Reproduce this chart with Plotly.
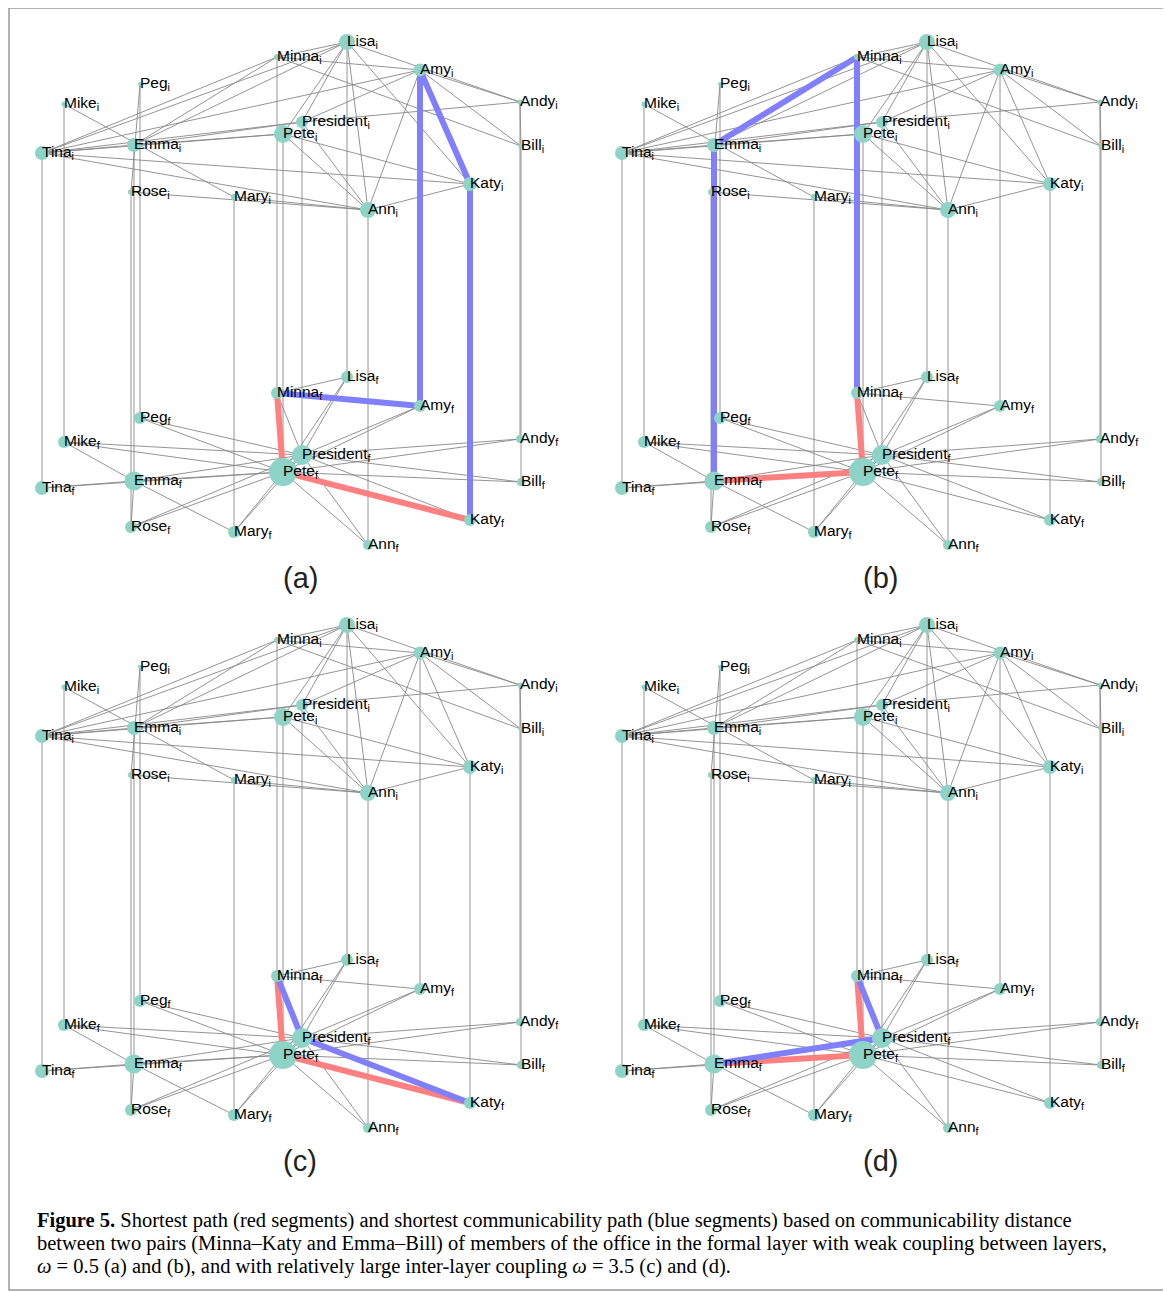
import plotly.graph_objects as go

W, H = 1171, 1292          # page size
OFF = 8                    # browser body margin
FW, FH = W - OFF, H - OFF  # figure size so the page is filled exactly

# ---------------- data ----------------
names = ["Tina", "Mike", "Peg", "Emma", "Rose", "Mary", "Minna", "Pete",
         "President", "Lisa", "Ann", "Amy", "Andy", "Bill", "Katy"]

# node layout inside one panel (pixels)
pos_x = [42, 64, 140, 134, 131, 234, 277, 283, 302, 347, 368, 420, 520, 521, 470]
pos_y_informal = [153, 104, 84, 145, 192, 197, 57, 134, 122, 42, 210, 70, 102, 146, 184]
pos_y_formal = [488, 442, 418, 481, 527, 532, 393, 472, 455, 377, 545, 406, 439, 482, 520]

# node sizes (diameter, px)
size_informal = [14, 5, 4, 14, 6, 6, 6, 18, 12, 16, 16, 13, 5, 5, 14]
size_formal = [14, 12, 12, 19, 12, 12, 12, 28, 20, 12, 10, 12, 8, 8, 12]

edges_informal = [
    ("Tina", "Minna"), ("Tina", "Lisa"), ("Tina", "Amy"), ("Tina", "Emma"),
    ("Tina", "Pete"), ("Tina", "President"), ("Tina", "Katy"), ("Tina", "Ann"),
    ("Mike", "Mary"), ("Peg", "Rose"),
    ("Emma", "Minna"), ("Emma", "Lisa"), ("Emma", "Pete"), ("Emma", "President"),
    ("Rose", "Ann"), ("Mary", "Ann"),
    ("Minna", "Lisa"), ("Minna", "Amy"), ("Minna", "Bill"),
    ("Lisa", "Pete"), ("Lisa", "President"), ("Lisa", "Ann"), ("Lisa", "Katy"),
    ("Lisa", "Andy"),
    ("Amy", "President"), ("Amy", "Ann"), ("Amy", "Andy"), ("Amy", "Bill"),
    ("Amy", "Katy"),
    ("Pete", "Ann"), ("Pete", "Katy"), ("President", "Ann"), ("President", "Andy"),
    ("Andy", "Bill"), ("Ann", "Katy"),
]

edges_formal = [
    ("Pete", "Peg"), ("Pete", "Mike"), ("Pete", "Emma"), ("Pete", "Tina"),
    ("Pete", "Rose"), ("Pete", "Mary"), ("Pete", "Ann"), ("Pete", "Katy"),
    ("Pete", "Bill"), ("Pete", "Andy"), ("Pete", "Amy"), ("Pete", "Lisa"),
    ("Pete", "Minna"), ("Pete", "President"),
    ("President", "Peg"), ("President", "Mike"), ("President", "Emma"),
    ("President", "Rose"), ("President", "Mary"), ("President", "Ann"),
    ("President", "Bill"), ("President", "Andy"), ("President", "Amy"),
    ("President", "Lisa"), ("President", "Minna"), ("President", "Katy"),
    ("Emma", "Mike"), ("Emma", "Tina"), ("Emma", "Mary"), ("Emma", "Rose"),
    ("Minna", "Lisa"), ("Minna", "Amy"),
]

panel_tags = ["(a)", "(b)", "(c)", "(d)"]
red_paths = [
    [("Minna", "f"), ("Pete", "f"), ("Katy", "f")],
    [("Emma", "f"), ("Pete", "f"), ("Minna", "f")],
    [("Minna", "f"), ("Pete", "f"), ("Katy", "f")],
    [("Emma", "f"), ("Pete", "f"), ("Minna", "f")],
]
blue_paths = [
    [("Minna", "f"), ("Amy", "f"), ("Amy", "i"), ("Katy", "i"), ("Katy", "f")],
    [("Emma", "f"), ("Emma", "i"), ("Minna", "i"), ("Minna", "f")],
    [("Minna", "f"), ("President", "f"), ("Katy", "f")],
    [("Emma", "f"), ("President", "f"), ("Minna", "f")],
]

caption_lines = [
    "<b>Figure 5.</b> Shortest path (red segments) and shortest communicability path (blue segments) based on communicability distance",
    "between two pairs (Minna\u2013Katy and Emma\u2013Bill) of members of the office in the formal layer with weak coupling between layers,",
    "<i>\u03c9</i> = 0.5 (a) and (b), and with relatively large inter-layer coupling <i>\u03c9</i> = 3.5 (c) and (d).",
]

# ---------------- styles ----------------
NODE_C = "#8DD3C7"
EDGE_C = "#888888"
RED_C = "#FF8080"
BLUE_C = "#8080FF"
LABEL_FONT = dict(family="Liberation Sans, Arial, sans-serif", size=15.5, color="black")

idx = {n: k for k, n in enumerate(names)}


def px_x(p):  # page pixel -> paper x
    return (p - OFF) / FW


def px_y(p):  # page pixel -> paper y
    return 1 - (p - OFF) / FH


def coord(name, layer):
    k = idx[name]
    return pos_x[k], (pos_y_informal[k] if layer == "i" else pos_y_formal[k])


def seg_xy(pairs):
    xs, ys = [], []
    for (a, la), (b, lb) in pairs:
        x0, y0 = coord(a, la)
        x1, y1 = coord(b, lb)
        xs += [x0, x1, None]
        ys += [y0, y1, None]
    return xs, ys


gray_pairs = ([((a, "i"), (b, "i")) for a, b in edges_informal] +
              [((a, "f"), (b, "f")) for a, b in edges_formal] +
              [((n, "i"), (n, "f")) for n in names])

fig = go.Figure()

PW, PH = 580, 583  # panel size in page px
for p in range(4):
    col, row = p % 2, p // 2
    ax = "" if p == 0 else str(p + 1)
    xa, ya = "x" + ax, "y" + ax
    left, right = col * PW, (col + 1) * PW
    top, bottom = row * PH, (row + 1) * PH
    # clip the part hidden by the body margin
    lv = max(left, OFF)
    tv = max(top, OFF)
    fig.layout["xaxis" + ax] = dict(domain=[px_x(lv), px_x(right)], range=[lv - left, PW],
                                    visible=False, fixedrange=True)
    fig.layout["yaxis" + ax] = dict(domain=[px_y(bottom), px_y(tv)], range=[PH, tv - top],
                                    visible=False, fixedrange=True)

    gx, gy = seg_xy(gray_pairs)
    fig.add_trace(go.Scatter(x=gx, y=gy, mode="lines", xaxis=xa, yaxis=ya,
                             line=dict(color=EDGE_C, width=0.9), hoverinfo="skip"))
    for path, colr in ((red_paths[p], RED_C), (blue_paths[p], BLUE_C)):
        xs = [coord(n, l)[0] for n, l in path]
        ys = [coord(n, l)[1] for n, l in path]
        fig.add_trace(go.Scatter(x=xs, y=ys, mode="lines", xaxis=xa, yaxis=ya,
                                 line=dict(color=colr, width=6), hoverinfo="skip"))
    nx = pos_x + pos_x
    ny = pos_y_informal + pos_y_formal
    ns = size_informal + size_formal
    fig.add_trace(go.Scatter(x=nx, y=ny, mode="markers", xaxis=xa, yaxis=ya,
                             marker=dict(color=NODE_C, size=ns, opacity=1, line=dict(width=0)),
                             hoverinfo="skip"))
    labels = [f"{n}<sub>i</sub>" for n in names] + [f"{n}<sub>f</sub>" for n in names]
    fig.add_trace(go.Scatter(x=nx, y=ny, mode="text", xaxis=xa, yaxis=ya,
                             text=labels, textposition="middle right",
                             textfont=LABEL_FONT, hoverinfo="skip", cliponaxis=False))
    fig.add_annotation(x=300, y=578, xref=xa, yref=ya, text=panel_tags[p],
                       showarrow=False, xanchor="center", yanchor="middle",
                       font=dict(family="Liberation Sans, Arial, sans-serif", size=29, color="#222"))

for k, line in enumerate(caption_lines):
    fig.add_annotation(x=px_x(35), y=px_y(1220 + 23 * k), xref="paper", yref="paper",
                       text=line, showarrow=False, xanchor="left", yanchor="middle",
                       font=dict(family="Liberation Serif, Times New Roman, serif", size=20.5, color="black"))

fig.add_shape(type="rect", xref="paper", yref="paper",
              x0=px_x(9), x1=px_x(1164), y0=px_y(1290), y1=px_y(8),
              line=dict(color="#999", width=1.5))

fig.update_layout(width=FW, height=FH, margin=dict(l=0, r=0, t=0, b=0),
                  paper_bgcolor="white", plot_bgcolor="white", showlegend=False)

fig.write_html("out.html")
